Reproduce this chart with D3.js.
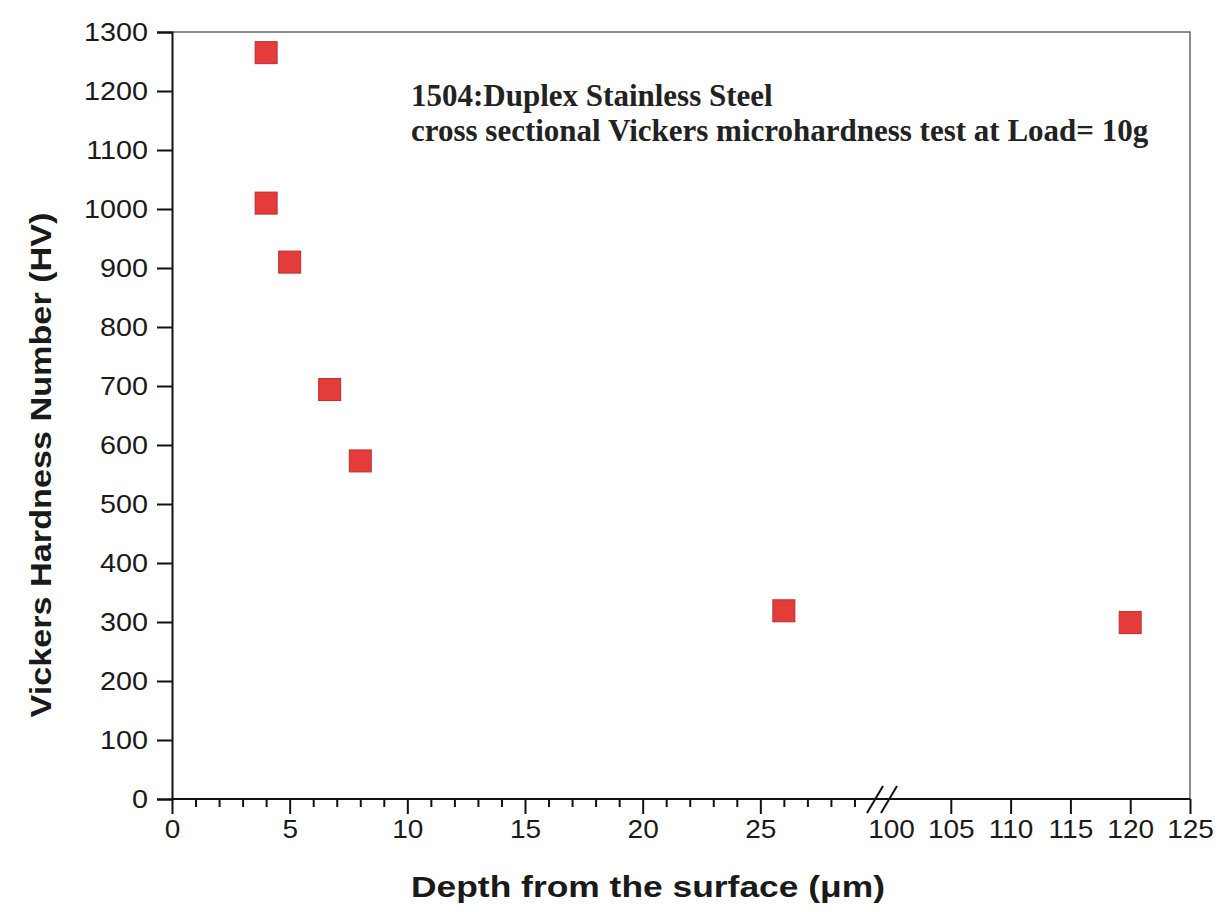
<!DOCTYPE html>
<html>
<head>
<meta charset="utf-8">
<script src="https://cdn.jsdelivr.net/npm/d3@7"></script>
<style>
  html, body { margin: 0; padding: 0; background: #fff; }
  svg { display: block; }
  .tick-label { font-family: "Liberation Sans", Arial, sans-serif; font-size: 25px; fill: #1a1a1a; }
  .axis-title { font-family: "Liberation Sans", Arial, sans-serif; font-size: 30px; font-weight: bold; fill: #1a1a1a; }
  .note { font-family: "Liberation Serif", "Times New Roman", serif; font-size: 31px; font-weight: bold; fill: #222; }
</style>
</head>
<body>
<svg id="chart" width="1222" height="912"></svg>
<script>
// measured values (depth in µm, hardness in HV)
const depths = [4, 4, 5, 6.7, 8, 26, 120];
const hardness = [1265, 1010, 910, 694, 573, 319, 299];

const leftMajorTicks = [0, 5, 10, 15, 20, 25];
const leftMinorTicks = d3.range(1, 30).filter(t => t % 5 !== 0);
const rightTicks = [100, 105, 110, 115, 120, 125];
const yTicks = d3.range(0, 1301, 100);

const noteLines = [
  "1504:Duplex Stainless Steel",
  "cross sectional Vickers microhardness test at Load= 10g"
];
const xTitle = "Depth from the surface (\u03bcm)";
const yTitle = "Vickers Hardness Number (HV)";

const plot = { left: 172, right: 1190, top: 32, bottom: 799 };
const breakAt = { leftEnd: 878, rightStart: 891 };

const y = d3.scaleLinear().domain([0, 1300]).range([plot.bottom, plot.top]);
const xLeft = d3.scaleLinear().domain([0, 30]).range([plot.left, breakAt.leftEnd]);
const xRight = d3.scaleLinear().domain([100, 125]).range([breakAt.rightStart, plot.right]);
const x = d => (d < 50 ? xLeft(d) : xRight(d));

// the scanned original uses a slightly wide sans face
const stretch = (sel, k) =>
  sel.each(function () {
    const len = this.getComputedTextLength();
    d3.select(this).attr("textLength", len * k).attr("lengthAdjust", "spacingAndGlyphs");
  });

const svg = d3.select("#chart");

// frame (top/right)
svg.append("path")
  .attr("d", `M${plot.left},${plot.top}H${plot.right}V${plot.bottom}`)
  .attr("fill", "none")
  .attr("stroke", "#666")
  .attr("stroke-width", 1.5);

// y axis
const yAxis = d3.axisLeft(y).tickValues(yTicks).tickFormat(d3.format("d")).tickSize(15).tickPadding(9);
const gy = svg.append("g").attr("transform", `translate(${plot.left},0)`).call(yAxis);
gy.select(".domain").attr("stroke", "#111").attr("stroke-width", 2);
gy.selectAll(".tick line").attr("stroke", "#111").attr("stroke-width", 2);
gy.selectAll(".tick text").attr("class", "tick-label").attr("font-size", null).attr("font-family", null)
  .call(stretch, 1.15);

// x axis, left segment + right segment
const gx = svg.append("g").attr("transform", `translate(0,${plot.bottom})`);
gx.append("line")
  .attr("x1", plot.left).attr("x2", plot.right)
  .attr("stroke", "#111").attr("stroke-width", 2.2);

const axisLeftMajor = d3.axisBottom(xLeft).tickValues(leftMajorTicks).tickSize(15).tickPadding(6);
const gxl = gx.append("g").call(axisLeftMajor);
const axisLeftMinor = d3.axisBottom(xLeft).tickValues(leftMinorTicks).tickSize(8).tickFormat("");
const gxm = gx.append("g").call(axisLeftMinor);
const axisRight = d3.axisBottom(xRight).tickValues(rightTicks).tickSize(15).tickPadding(6);
const gxr = gx.append("g").call(axisRight);
gxr.selectAll(".tick").filter(d => d === 100).select("line").remove();

[gxl, gxm, gxr].forEach(g => {
  g.select(".domain").remove();
  g.selectAll(".tick line").attr("stroke", "#111").attr("stroke-width", 2);
  g.selectAll(".tick text").attr("class", "tick-label").attr("font-size", null).attr("font-family", null)
    .call(stretch, 1.12);
});

// axis break marks
const slashes = [breakAt.leftEnd - 3, breakAt.rightStart - 2];
gx.selectAll("line.break")
  .data(slashes)
  .join("line")
  .attr("class", "break")
  .attr("x1", d => d - 8).attr("y1", 14)
  .attr("x2", d => d + 8).attr("y2", -13)
  .attr("stroke", "#111")
  .attr("stroke-width", 2);

// axis titles
svg.append("text")
  .attr("class", "axis-title")
  .attr("x", 648)
  .attr("y", 897)
  .attr("text-anchor", "middle")
  .text(xTitle)
  .call(stretch, 1.18);

svg.append("text")
  .attr("class", "axis-title")
  .attr("transform", "translate(51,465) rotate(-90)")
  .attr("text-anchor", "middle")
  .text(yTitle)
  .call(stretch, 1.14);

// annotation
svg.append("text")
  .attr("class", "note")
  .selectAll("tspan")
  .data(noteLines)
  .join("tspan")
  .attr("x", 411)
  .attr("y", (d, i) => 106 + i * 35)
  .text(d => d);

// markers
const size = 22;
svg.append("g")
  .selectAll("rect")
  .data(depths.map((d, i) => ({ depth: d, hv: hardness[i] })))
  .join("rect")
  .attr("x", d => x(d.depth) - size / 2)
  .attr("y", d => y(d.hv) - size / 2)
  .attr("width", size)
  .attr("height", size)
  .attr("fill", "#e63b3b")
  .attr("stroke", "#b83030")
  .attr("stroke-width", 1);
</script>
</body>
</html>
